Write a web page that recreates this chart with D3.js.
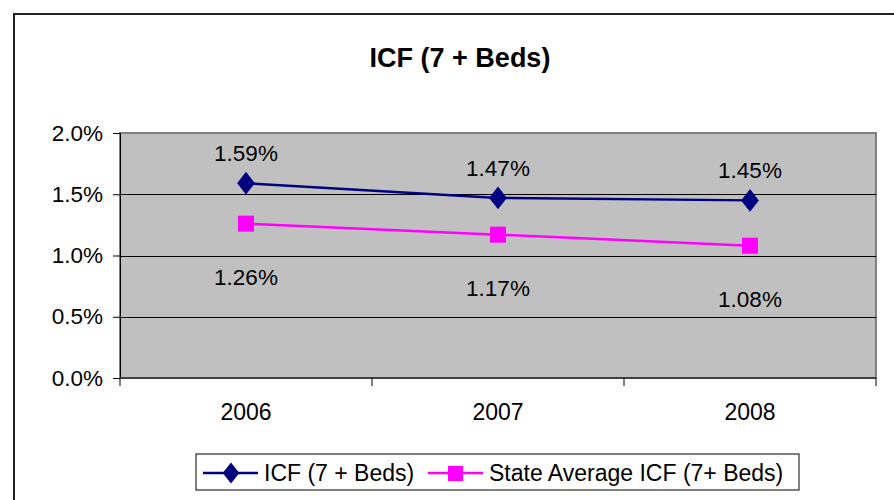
<!DOCTYPE html>
<html>
<head>
<meta charset="utf-8">
<script src="https://cdn.jsdelivr.net/npm/d3@7"></script>
<style>
  body { margin: 0; background: #fff; }
  svg { display: block; font-family: "Liberation Sans", Arial, sans-serif; }
</style>
</head>
<body>
<svg id="chart" width="894" height="500"></svg>
<script>
// data
var years = ["2006", "2007", "2008"];
var icf = [0.0159, 0.0147, 0.0145];
var stateAvg = [0.0126, 0.0117, 0.0108];
var yTicks = [0, 0.005, 0.01, 0.015, 0.02];
var seriesNames = ["ICF (7 + Beds)", "State Average ICF (7+ Beds)"];

var svg = d3.select("#chart");

// outer chart border (runs off the right and bottom of the picture)
svg.append("rect")
  .attr("x", 14).attr("y", 14)
  .attr("width", 920).attr("height", 520)
  .attr("fill", "#fff")
  .attr("stroke", "#222")
  .attr("stroke-width", 2);

// title
svg.append("text")
  .attr("x", 460).attr("y", 67)
  .attr("text-anchor", "middle")
  .attr("font-size", 27)
  .attr("font-weight", "bold")
  .text("ICF (7 + Beds)");

var plot = { left: 120, right: 876, top: 133, bottom: 378 };

var x = d3.scaleBand().domain(years).range([plot.left, plot.right]).padding(0);
var y = d3.scaleLinear().domain([0, 0.02]).range([plot.bottom, plot.top]);
var cx = function(d, i) { return x(years[i]) + x.bandwidth() / 2; };

// plot area
svg.append("rect")
  .attr("x", plot.left).attr("y", plot.top)
  .attr("width", plot.right - plot.left).attr("height", plot.bottom - plot.top)
  .attr("fill", "#c0c0c0")
  .attr("stroke", "#808080")
  .attr("stroke-width", 2);

// gridlines
svg.append("g")
  .selectAll("line")
  .data(yTicks.filter(function(t) { return t > 0 && t < 0.02; }))
  .join("line")
  .attr("x1", plot.left).attr("x2", plot.right)
  .attr("y1", function(d) { return Math.round(y(d)) + 0.5; })
  .attr("y2", function(d) { return Math.round(y(d)) + 0.5; })
  .attr("stroke", "#000")
  .attr("stroke-width", 1);

// y axis
var yAxis = svg.append("g")
  .attr("transform", "translate(" + plot.left + ",0)")
  .call(d3.axisLeft(y).tickValues(yTicks).tickFormat(d3.format(".1%")).tickSize(7).tickPadding(10));
yAxis.select(".domain").attr("stroke", "#000");
yAxis.selectAll("text").attr("font-size", 22.5).attr("font-family", "Liberation Sans, Arial, sans-serif").attr("fill", "#000");

// x axis: ticks at category boundaries
var xAxis = svg.append("g")
  .attr("transform", "translate(0," + plot.bottom + ")");
xAxis.append("line")
  .attr("x1", plot.left).attr("x2", plot.right)
  .attr("stroke", "#404040").attr("stroke-width", 2);
var bounds = years.map(function(d) { return x(d); }).concat([plot.right]);
xAxis.selectAll("line.tick")
  .data(bounds)
  .join("line")
  .attr("class", "tick")
  .attr("x1", function(d) { return d; }).attr("x2", function(d) { return d; })
  .attr("y1", 0).attr("y2", 8)
  .attr("stroke", "#000");
xAxis.selectAll("text")
  .data(years)
  .join("text")
  .attr("x", function(d) { return x(d) + x.bandwidth() / 2; })
  .attr("y", 42)
  .attr("text-anchor", "middle")
  .attr("font-size", 23)
  .text(function(d) { return d; });

var line = d3.line().x(cx).y(function(d) { return y(d); });
var fmt = d3.format(".2%");

// ICF series
svg.append("path").datum(icf)
  .attr("d", line).attr("fill", "none")
  .attr("stroke", "#000080").attr("stroke-width", 2.5);
svg.append("g").selectAll("path")
  .data(icf).join("path")
  .attr("d", d3.symbol(d3.symbolDiamond, 150))
  .attr("transform", function(d, i) { return "translate(" + cx(d, i) + "," + y(d) + ") scale(1.35,1)"; })
  .attr("fill", "#000080");

// State average series
svg.append("path").datum(stateAvg)
  .attr("d", line).attr("fill", "none")
  .attr("stroke", "#ff00ff").attr("stroke-width", 2.5);
svg.append("g").selectAll("rect")
  .data(stateAvg).join("rect")
  .attr("x", function(d, i) { return cx(d, i) - 8; })
  .attr("y", function(d) { return y(d) - 8; })
  .attr("width", 16).attr("height", 16)
  .attr("fill", "#ff00ff");

// data labels
svg.append("g").selectAll("text")
  .data(icf).join("text")
  .attr("x", cx)
  .attr("y", function(d) { return y(d) - 30; })
  .attr("dy", "0.35em")
  .attr("text-anchor", "middle")
  .attr("font-size", 22.5)
  .text(fmt);
svg.append("g").selectAll("text")
  .data(stateAvg).join("text")
  .attr("x", cx)
  .attr("y", function(d) { return y(d) + 53; })
  .attr("dy", "0.35em")
  .attr("text-anchor", "middle")
  .attr("font-size", 22.5)
  .text(fmt);

// legend
var legend = svg.append("g");
legend.append("rect")
  .attr("x", 196).attr("y", 454)
  .attr("width", 603).attr("height", 36)
  .attr("fill", "#fff").attr("stroke", "#000");
var items = [
  { name: seriesNames[0], color: "#000080", x0: 203, shape: "diamond" },
  { name: seriesNames[1], color: "#ff00ff", x0: 428, shape: "square" }
];
items.forEach(function(it) {
  var g = legend.append("g").attr("transform", "translate(" + it.x0 + ",473)");
  g.append("line").attr("x1", 0).attr("x2", 55).attr("stroke", it.color).attr("stroke-width", 2.5);
  if (it.shape === "diamond") {
    g.append("path").attr("d", d3.symbol(d3.symbolDiamond, 130))
      .attr("transform", "translate(28,0) scale(1.35,1)").attr("fill", it.color);
  } else {
    g.append("rect").attr("x", 20).attr("y", -7).attr("width", 15).attr("height", 15).attr("fill", it.color);
  }
  g.append("text").attr("x", 61).attr("dy", "0.35em")
    .attr("font-size", 23).text(it.name);
});
</script>
</body>
</html>
